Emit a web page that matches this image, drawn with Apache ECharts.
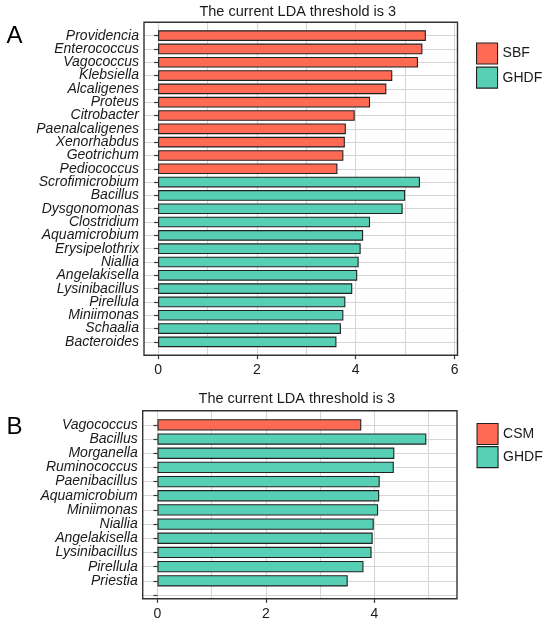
<!DOCTYPE html>
<html>
<head>
<meta charset="utf-8">
<script src="https://cdn.jsdelivr.net/npm/echarts@6/dist/echarts.min.js"></script>
<style>
    html, body {margin: 0; padding: 0; background: #fff;}
    #chart {width: 550px; height: 625px;}
</style>
</head>
<body>
<div id="chart"></div>
<script>
var titleText = 'The current LDA threshold is 3';

// panel A
var namesA = ['Providencia', 'Enterococcus', 'Vagococcus', 'Klebsiella', 'Alcaligenes', 'Proteus',
    'Citrobacter', 'Paenalcaligenes', 'Xenorhabdus', 'Geotrichum', 'Pediococcus',
    'Scrofimicrobium', 'Bacillus', 'Dysgonomonas', 'Clostridium', 'Aquamicrobium', 'Erysipelothrix',
    'Niallia', 'Angelakisella', 'Lysinibacillus', 'Pirellula', 'Miniimonas', 'Schaalia', 'Bacteroides'];
var groupsA = ['SBF', 'SBF', 'SBF', 'SBF', 'SBF', 'SBF', 'SBF', 'SBF', 'SBF', 'SBF', 'SBF',
    'GHDF', 'GHDF', 'GHDF', 'GHDF', 'GHDF', 'GHDF', 'GHDF', 'GHDF', 'GHDF', 'GHDF', 'GHDF', 'GHDF', 'GHDF'];
var valuesA = [5.42, 5.35, 5.26, 4.74, 4.62, 4.29, 3.98, 3.80, 3.78, 3.75, 3.63,
    5.30, 5.00, 4.95, 4.29, 4.15, 4.10, 4.06, 4.03, 3.93, 3.79, 3.75, 3.70, 3.61];
var legendA = ['SBF', 'GHDF'];
var ticksA = [0, 2, 4, 6];

// panel B
var namesB = ['Vagococcus', 'Bacillus', 'Morganella', 'Ruminococcus', 'Paenibacillus', 'Aquamicrobium',
    'Miniimonas', 'Niallia', 'Angelakisella', 'Lysinibacillus', 'Pirellula', 'Priestia'];
var groupsB = ['CSM', 'GHDF', 'GHDF', 'GHDF', 'GHDF', 'GHDF', 'GHDF', 'GHDF', 'GHDF', 'GHDF', 'GHDF', 'GHDF'];
var valuesB = [3.76, 4.96, 4.37, 4.36, 4.10, 4.09, 4.07, 3.99, 3.97, 3.95, 3.80, 3.51];
var legendB = ['CSM', 'GHDF'];
var ticksB = [0, 2, 4];

var colors = {SBF: '#FF6A55', CSM: '#FF6A55', GHDF: '#57CFB4'};
var font = '"Liberation Sans", Arial, sans-serif';
var gridColor = '#d6d6d6';
var inkColor = '#1a1a1a';

// layout of the two panels (pixels, and axis ranges in data units)
var panels = [
    {names: namesA, groups: groupsA, values: valuesA, legend: legendA, ticks: ticksA, pad: false,
        frame: {l: 144, r: 457.5, t: 22.3, b: 355.2}, xMin: -0.285, xMax: 6.06, xGrid: 6, yMin: -1, yMax: 24,
        letter: 'A', letterY: 36, titleY: 12, legendLeft: 471, legendTop: 37.5, legendGap: 2},
    {names: namesB, groups: groupsB, values: valuesB, legend: legendB, ticks: ticksB, pad: true,
        frame: {l: 142.7, r: 457, t: 410.7, b: 598.8}, xMin: -0.273, xMax: 5.526, xGrid: 5, yMin: -1, yMax: 12.27,
        letter: 'B', letterY: 427, titleY: 398.5, legendLeft: 471.5, legendTop: 418, legendGap: 1}
];

var grid = [], xAxis = [], yAxis = [], series = [], legend = [], graphic = [];

panels.forEach(function (p, k) {
    var f = p.frame;
    var ux = (f.r - f.l) / (p.xMax - p.xMin);
    var uy = (f.b - f.t) / (p.yMax - p.yMin);
    var x0 = f.l - p.xMin * ux;
    var xg = x0 + p.xGrid * ux;
    var tickMax = p.ticks[p.ticks.length - 1];
    var xt = x0 + tickMax * ux;
    var cats = p.names.concat(p.pad ? [''] : []);
    var barTop = f.t + (-0.5 - p.yMin) * uy;
    var g = k * 4;

    // frame + horizontal grid lines
    grid.push({left: f.l, top: f.t, width: f.r - f.l, height: f.b - f.t, show: true,
        borderColor: '#333', borderWidth: 1.4, backgroundColor: 'transparent', z: 3});
    xAxis.push({gridIndex: g, type: 'value', min: p.xMin, max: p.xMax, show: false});
    yAxis.push({gridIndex: g, type: 'value', inverse: true, min: p.yMin, max: p.yMax, interval: 1,
        axisLine: {show: false}, axisTick: {show: false}, axisLabel: {show: false},
        splitLine: {show: true, showMinLine: false, showMaxLine: false, lineStyle: {color: gridColor, width: 1.1}}});

    // vertical grid lines
    grid.push({left: x0, top: f.t, width: xg - x0, height: f.b - f.t});
    xAxis.push({gridIndex: g + 1, type: 'value', min: 0, max: p.xGrid, interval: 1,
        axisLine: {show: false}, axisTick: {show: false}, axisLabel: {show: false},
        splitLine: {show: true, lineStyle: {color: gridColor, width: 1.1}}});
    yAxis.push({gridIndex: g + 1, type: 'value', show: false});

    // x ticks and labels
    grid.push({left: x0, top: f.t, width: xt - x0, height: f.b - f.t});
    xAxis.push({gridIndex: g + 2, type: 'value', min: 0, max: tickMax, interval: p.ticks[1] - p.ticks[0],
        axisLine: {show: false},
        axisTick: {show: true, length: 4, lineStyle: {color: '#333', width: 1.2}},
        axisLabel: {fontSize: 14, color: inkColor, fontFamily: font, margin: 8},
        splitLine: {show: false}});
    yAxis.push({gridIndex: g + 2, type: 'value', show: false});

    // bars
    grid.push({left: x0, top: barTop, width: xg - x0, height: cats.length * uy});
    xAxis.push({gridIndex: g + 3, type: 'value', min: 0, max: p.xGrid, show: false});
    yAxis.push({gridIndex: g + 3, type: 'category', data: cats, inverse: true, offset: x0 - f.l,
        axisLine: {show: false},
        axisTick: {show: true, alignWithLabel: true, interval: 0, length: 4, lineStyle: {color: '#333', width: 1.2}},
        axisLabel: {interval: 0, fontSize: 14, fontStyle: 'italic', color: inkColor, fontFamily: font, margin: 5},
        splitLine: {show: false}});

    p.legend.forEach(function (name) {
        series.push({
            type: 'bar', name: name, xAxisIndex: g + 3, yAxisIndex: g + 3,
            data: cats.map(function (c, i) { return p.groups[i] === name ? p.values[i] : '-'; }),
            barWidth: '80%', barGap: '-100%',
            itemStyle: {color: colors[name], borderColor: '#222', borderWidth: 1.1},
            silent: true
        });
    });

    legend.push({
        orient: 'vertical', left: p.legendLeft, top: p.legendTop,
        itemWidth: 21, itemHeight: 21, itemGap: p.legendGap, icon: 'rect',
        data: p.legend, selectedMode: false,
        itemStyle: {borderColor: '#222', borderWidth: 1.1},
        textStyle: {fontSize: 14, color: inkColor, fontFamily: font}
    });

    graphic.push({
        type: 'text', x: (f.l + f.r) / 2 - 3, y: p.titleY,
        style: {text: titleText, font: '14.5px ' + font, fill: inkColor,
            align: 'center', verticalAlign: 'middle', textAlign: 'center', textVerticalAlign: 'middle'}
    });
    graphic.push({
        type: 'text', x: 14.5, y: p.letterY,
        style: {text: p.letter, font: '24px ' + font, fill: '#000',
            align: 'center', verticalAlign: 'middle', textAlign: 'center', textVerticalAlign: 'middle'}
    });
});

var myChart = echarts.init(document.getElementById('chart'));
myChart.setOption({
    animation: false,
    backgroundColor: '#fff',
    grid: grid,
    xAxis: xAxis,
    yAxis: yAxis,
    legend: legend,
    graphic: graphic,
    series: series
});
</script>
</body>
</html>
